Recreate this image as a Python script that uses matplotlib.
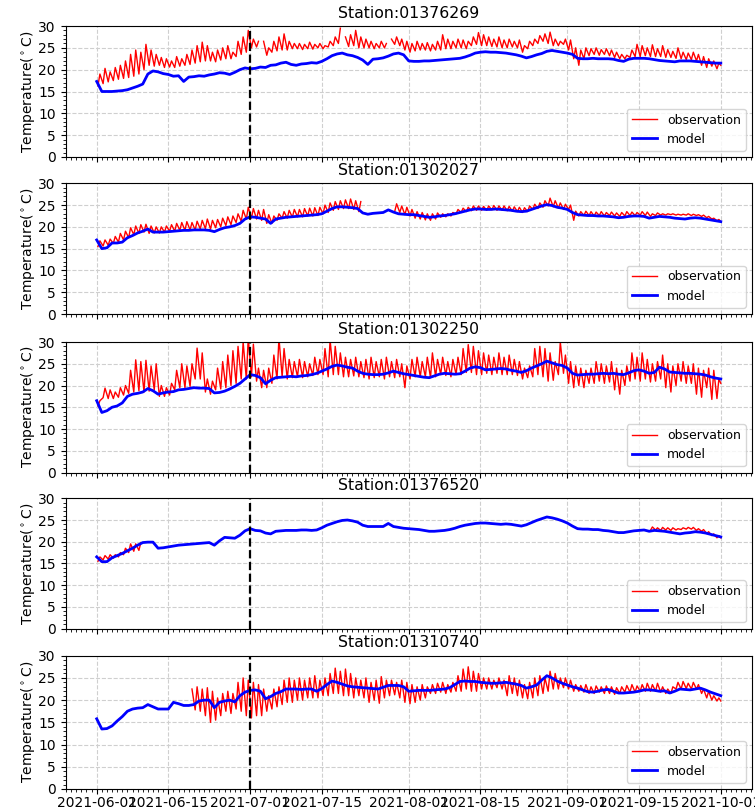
import numpy as np
import matplotlib
matplotlib.use("Agg")
import matplotlib.pyplot as plt
import matplotlib.dates as mdates
from matplotlib.ticker import MultipleLocator

nan = np.nan

stations = ["01376269", "01302027", "01302250", "01376520", "01310740"]
xtick_labels = ["2021-06-01", "2021-06-15", "2021-07-01", "2021-07-15", "2021-08-01",
                "2021-08-15", "2021-09-01", "2021-09-15", "2021-10-01"]
split_date = "2021-07-01"

# ---------------- model (daily values, 2021-06-01 .. 2021-10-01) ----------------
model_01376269 = [17.3, 15.0, 15.0, 15.0, 15.1, 15.2, 15.4, 15.8, 16.2, 16.7,
                  19.0, 19.7, 19.5, 19.1, 18.9, 18.5, 18.6, 17.3, 18.3, 18.4,
                  18.6, 18.5, 18.8, 19.0, 19.3, 19.2, 18.9, 19.4, 20.0, 20.4,
                  20.2, 20.3, 20.6, 20.5, 21.0, 21.1, 21.5, 21.7, 21.2, 21.0,
                  21.3, 21.4, 21.6, 21.5, 21.9, 22.5, 23.2, 23.6, 23.8, 23.4,
                  23.2, 22.8, 22.2, 21.2, 22.4, 22.5, 22.7, 23.1, 23.6, 23.8,
                  23.4, 22.0, 21.9, 21.9, 22.0, 22.0, 22.1, 22.2, 22.3, 22.4,
                  22.5, 22.6, 22.9, 23.3, 23.8, 24.0, 24.1, 24.0, 24.0, 23.9,
                  23.8, 23.6, 23.4, 23.1, 22.7, 23.0, 23.4, 23.7, 24.2, 24.4,
                  24.2, 24.0, 23.8, 23.5, 22.6, 22.5, 22.5, 22.6, 22.5, 22.5,
                  22.5, 22.4, 22.1, 21.9, 22.4, 22.6, 22.6, 22.6, 22.5, 22.3,
                  22.1, 22.0, 21.9, 21.8, 22.0, 22.0, 22.0, 21.9, 21.8, 21.7,
                  21.6, 21.5, 21.5]
model_01302027 = [17.0, 15.0, 15.2, 16.3, 16.3, 16.5, 17.5, 18.0, 18.6, 19.0,
                  19.5, 18.8, 18.8, 18.8, 18.9, 19.0, 19.1, 19.2, 19.2, 19.3,
                  19.3, 19.3, 19.2, 18.9, 19.4, 19.8, 20.0, 20.3, 20.8, 21.8,
                  22.3, 22.2, 22.0, 21.8, 20.8, 21.8, 22.0, 22.2, 22.3, 22.4,
                  22.5, 22.6, 22.7, 22.8, 23.0, 23.6, 24.2, 24.6, 24.6, 24.5,
                  24.4, 24.2, 23.2, 22.9, 23.1, 23.2, 23.3, 23.9, 23.4, 23.0,
                  22.9, 22.8, 22.8, 22.6, 22.4, 22.2, 22.3, 22.5, 22.6, 22.8,
                  23.0, 23.3, 23.6, 23.9, 24.1, 24.1, 24.0, 24.0, 24.1, 24.0,
                  23.9, 23.8, 23.6, 23.5, 23.6, 24.0, 24.4, 24.8, 25.1, 24.9,
                  24.5, 24.3, 24.0, 23.3, 22.8, 22.7, 22.6, 22.6, 22.5, 22.5,
                  22.4, 22.3, 22.1, 22.2, 22.4, 22.5, 22.5, 22.4, 22.0, 22.2,
                  22.4, 22.3, 22.2, 22.0, 21.9, 21.8, 22.0, 22.1, 22.0, 21.8,
                  21.6, 21.4, 21.2]
model_01302250 = [16.5, 13.8, 14.2, 15.0, 15.3, 16.0, 17.5, 18.0, 18.2, 18.5,
                  19.3, 18.8, 18.0, 18.3, 18.5, 18.6, 19.0, 19.1, 19.3, 19.5,
                  19.4, 19.4, 19.3, 18.3, 18.4, 18.7, 19.2, 19.8, 20.5, 21.5,
                  22.5, 22.3, 21.8, 20.4, 21.2, 21.8, 21.9, 22.0, 22.1, 22.0,
                  22.2, 22.3, 22.5, 22.8, 23.3, 23.8, 24.4, 24.7, 24.5, 24.2,
                  24.0, 23.3, 22.8, 22.6, 22.5, 22.5, 22.6, 22.9, 23.3, 23.0,
                  22.7, 22.5, 22.3, 22.1, 21.9, 21.8, 22.2, 22.6, 22.8, 22.7,
                  22.6, 22.7, 23.3, 24.0, 24.3, 24.1, 23.6, 23.7, 23.8, 23.9,
                  23.8, 23.5, 23.3, 23.0, 23.4, 24.0, 24.5, 25.0, 25.6, 25.2,
                  24.8, 24.6, 24.0, 22.8, 22.4, 22.5, 22.6, 22.6, 22.7, 22.8,
                  22.7, 22.8, 22.6, 22.5, 22.9, 23.4, 23.6, 23.3, 22.8, 23.0,
                  24.2, 23.8, 23.1, 23.0, 22.9, 22.8, 22.8, 22.7, 22.6, 22.4,
                  22.0, 21.7, 21.5]
model_01376520 = [16.5, 15.4, 15.4, 16.3, 16.8, 17.3, 17.9, 18.5, 19.2, 19.8,
                  19.9, 19.9, 18.5, 18.6, 18.8, 19.0, 19.2, 19.3, 19.4, 19.5,
                  19.6, 19.7, 19.8, 19.2, 20.2, 21.0, 20.9, 20.8, 21.5, 22.5,
                  23.0, 22.6, 22.5, 22.0, 21.8, 22.4, 22.5, 22.6, 22.6, 22.6,
                  22.7, 22.7, 22.6, 22.7, 23.2, 23.8, 24.2, 24.6, 24.9, 25.0,
                  24.8, 24.5, 23.8, 23.5, 23.5, 23.5, 23.5, 24.2, 23.5, 23.3,
                  23.1, 23.0, 22.9, 22.8, 22.6, 22.4, 22.4, 22.5, 22.6, 22.8,
                  23.1, 23.5, 23.8, 24.0, 24.2, 24.3, 24.3, 24.2, 24.1, 24.0,
                  24.1, 24.0, 23.8, 23.6, 23.9, 24.4, 24.9, 25.3, 25.7, 25.5,
                  25.2, 24.8, 24.3, 23.6, 23.0, 22.9, 22.9, 22.8, 22.8, 22.6,
                  22.5, 22.3, 22.1, 22.1, 22.3, 22.5, 22.6, 22.7, 22.4, 22.6,
                  22.5, 22.4, 22.2, 22.0, 21.8, 22.0, 22.1, 22.3, 22.2, 22.0,
                  21.7, 21.4, 21.1]
model_01310740 = [15.8, 13.5, 13.6, 14.2, 15.3, 16.3, 17.5, 18.0, 18.2, 18.3,
                  19.0, 18.5, 18.0, 18.0, 18.0, 19.5, 19.2, 18.8, 18.8, 19.0,
                  19.8, 20.0, 20.0, 18.3, 19.5, 19.8, 20.0, 19.6, 21.0, 21.8,
                  22.2, 22.3, 22.0, 20.3, 20.8, 21.5, 21.9, 22.5, 22.5, 22.5,
                  22.4, 22.5, 22.5, 22.0, 22.6, 23.5, 24.3, 24.0, 23.6, 23.2,
                  23.0, 22.9, 22.8, 22.7, 22.6, 22.5, 22.9, 23.3, 23.3, 23.3,
                  23.0, 22.0, 22.1, 22.2, 22.2, 22.2, 22.3, 22.4, 22.5, 22.8,
                  23.5, 24.2, 24.3, 24.2, 24.2, 24.0, 23.9, 23.8, 23.8, 23.9,
                  24.0, 23.8, 23.6, 23.3, 22.7, 23.0, 23.4, 24.5, 25.5, 25.0,
                  24.3, 23.8, 23.4, 23.0, 22.7, 22.3, 21.9, 21.8, 22.0, 22.3,
                  22.4, 22.0, 21.6, 21.6, 21.7, 21.8, 22.0, 22.3, 22.3, 22.2,
                  22.0, 22.1, 21.6, 22.0, 22.5, 22.4, 22.3, 22.5, 22.7, 22.3,
                  21.8, 21.4, 21.0]

# ---------------- observations: daily max / min (NaN = missing) ----------------
obs_hi_01376269 = [19.0, 20.3, 19.5, 20.5, 21.0, 22.0, 23.5, 24.5, 24.0, 25.8,
                   24.5, 23.5, 22.8, 22.5, 22.0, 23.0, 22.5, 23.5, 24.5, 25.5,
                   26.3, 25.5, 24.0, 24.5, 25.0, 25.5, 24.0, 26.5, 27.5, 29.0,
                   27.0, 26.5, 26.5, 25.0, 26.5, 27.5, 28.2, 26.5, 26.0, 26.0,
                   25.8, 26.3, 25.8, 26.0, 25.5, 26.5, 27.5, 29.5, 27.5, 28.0,
                   29.0, 27.5, 27.0, 26.5, 26.0, 26.5, 26.0, 27.0, 27.5, 27.0,
                   26.5, 26.0, 26.5, 26.0, 26.2, 25.8, 26.5, 28.0, 27.0, 26.5,
                   27.0, 26.8, 26.5, 27.5, 28.5, 28.0, 27.5, 27.0, 27.5, 26.8,
                   27.0, 26.5, 26.8, 25.5, 26.5, 27.0, 27.8, 28.2, 28.6, 27.0,
                   26.5, 27.0, 26.8, 25.0, 24.5, 25.0, 24.8, 25.0, 24.6, 24.8,
                   24.5, 24.0, 23.5, 23.3, 24.5, 25.8, 25.5, 25.0, 25.7, 24.8,
                   25.5, 24.6, 24.2, 25.0, 24.0, 23.8, 24.0, 23.5, 23.0, 22.5,
                   22.0, 21.5]
obs_lo_01376269 = [16.3, 16.8, 17.2, 17.5, 17.8, 18.0, 18.2, 18.5, 19.0, 20.0,
                   21.0, 20.8, 21.0, 20.5, 20.6, 20.5, 20.8, 21.0, 21.2, 21.5,
                   21.8, 22.0, 22.0, 21.8, 22.2, 22.5, 22.5, 23.0, 23.5, 24.0,
                   25.0, 25.2, nan, 23.3, 24.0, 24.3, 24.5, 24.5, 24.8, 24.8,
                   24.6, 24.8, 24.7, 25.0, 24.8, 25.2, 25.5, 26.0, nan, 25.3,
                   25.5, 25.0, 25.0, 25.0, 24.8, 25.0, 25.0, nan, 25.8, 25.5,
                   24.5, 24.0, 24.3, 24.5, 24.5, 24.3, 24.5, 24.5, 24.8, 24.8,
                   25.0, 25.0, 24.8, 25.5, 25.8, 25.5, 25.5, 25.3, 25.2, 25.0,
                   25.0, 25.2, 25.0, 24.0, 24.8, 25.5, 26.0, 26.5, 26.0, 25.5,
                   25.5, 25.8, 24.5, 22.5, 21.0, 22.5, 23.2, 23.5, 23.3, 23.5,
                   23.2, 22.8, 22.5, 22.5, 22.8, 23.0, 23.0, 23.2, 23.0, 23.0,
                   23.0, 22.8, 22.8, 22.6, 22.5, 22.3, 22.3, 22.0, 21.0, 20.5,
                   20.8, 20.2]
obs_end_01376269 = 21.0

obs_hi_01302027 = [16.8, 17.0, 17.2, 17.8, 18.5, 19.0, 19.8, 20.2, 20.5, 20.6,
                   20.2, 20.0, 20.0, 20.2, 20.5, 20.8, 21.0, 21.2, 21.0, 21.3,
                   21.5, 21.8, 21.5, 21.7, 22.0, 22.3, 22.5, 23.0, 23.8, 24.5,
                   24.2, 23.8, 24.0, 22.8, 22.5, 23.0, 23.5, 23.8, 24.0, 24.0,
                   24.2, 24.3, 24.4, 24.5, 25.0, 25.5, 25.8, 26.0, 26.2, 26.4,
                   26.0, 25.8, nan, nan, nan, nan, nan, nan, 25.3, 24.8,
                   24.5, 24.0, 23.5, 23.3, 23.0, 23.0, 23.2, 23.0, 23.0, 23.3,
                   24.0, 24.3, 24.5, 24.8, 24.8, 24.7, 24.8, 24.9, 24.8, 24.8,
                   24.7, 24.6, 24.5, 24.4, 24.8, 25.2, 25.5, 26.0, 26.6, 26.0,
                   25.5, 25.2, 25.0, 23.6, 23.5, 23.6, 23.5, 23.4, 23.5, 23.3,
                   23.4, 23.2, 23.3, 23.5, 23.4, 23.3, 23.5, 23.4, 23.0, 23.2,
                   23.0, 23.0, 23.0, 22.9, 22.9, 23.0, 22.9, 22.8, 22.7, 22.4,
                   22.0, 21.7]
obs_lo_01302027 = [15.5, 15.6, 15.8, 16.2, 16.5, 17.0, 17.5, 18.2, 18.5, 18.8,
                   18.5, 18.6, 18.6, 18.8, 19.0, 19.0, 19.2, 19.2, 19.3, 19.3,
                   19.5, 19.6, 19.5, 19.8, 20.0, 20.3, 20.5, 21.0, 21.3, 21.8,
                   22.0, 21.8, 21.5, 20.8, 20.8, 21.5, 22.0, 22.0, 22.2, 22.3,
                   22.3, 22.5, 22.5, 22.6, 23.0, 23.3, 23.8, 24.0, 24.2, 24.2,
                   24.0, 23.5, nan, nan, nan, nan, nan, nan, 23.5, 23.3,
                   22.8, 22.5, 22.0, 21.8, 21.6, 21.5, 21.8, 22.2, 22.3, 22.5,
                   23.0, 23.3, 23.5, 23.7, 23.8, 23.8, 23.8, 23.9, 23.8, 23.8,
                   23.7, 23.6, 23.5, 23.3, 23.5, 24.0, 24.2, 24.5, 24.8, 24.6,
                   24.3, 24.0, 24.0, 21.5, 22.5, 22.6, 22.6, 22.5, 22.6, 22.5,
                   22.6, 22.5, 22.4, 22.5, 22.6, 22.6, 22.7, 22.6, 22.4, 22.6,
                   22.7, 22.7, 22.8, 22.7, 22.7, 22.7, 22.6, 22.6, 22.4, 22.1,
                   21.8, 21.4]
obs_end_01302027 = 21.2

obs_hi_01302250 = [16.5, 19.4, 19.0, 18.5, 19.5, 20.0, 23.5, 25.9, 25.5, 25.8,
                   24.5, 25.0, 20.0, 19.5, 20.5, 23.5, 25.0, 24.5, 25.0, 28.6,
                   27.5, 21.5, 21.0, 24.0, 25.5, 27.0, 28.0, 29.0, 30.0, 31.0,
                   29.5, 24.0, 23.5, 24.0, 27.0, 31.0, 28.5, 26.0, 25.5, 26.0,
                   25.5, 25.0, 26.5, 26.0, 28.5, 30.5, 29.0, 27.5, 26.5, 26.0,
                   26.5, 25.5, 26.0, 26.5, 25.5, 26.0, 26.5, 25.5, 26.0, 25.0,
                   24.5, 26.0, 26.5, 25.5, 26.5, 27.5, 26.0, 26.5, 25.5, 26.0,
                   26.5, 28.5, 29.4, 29.0, 28.0, 27.5, 27.0, 26.5, 27.5, 26.5,
                   27.0, 26.0, 25.5, 24.0, 24.5, 28.5, 29.0, 28.5, 27.5, 25.5,
                   30.0, 27.0, 25.5, 24.5, 24.0, 23.5, 24.0, 25.5, 25.0, 24.5,
                   25.5, 24.0, 23.5, 24.5, 27.5, 26.5, 27.5, 26.0, 25.0, 25.5,
                   27.0, 25.0, 24.5, 25.0, 25.5, 24.5, 25.0, 24.0, 23.5, 24.0,
                   23.5, 21.5]
obs_lo_01302250 = [15.3, 17.2, 17.0, 17.0, 17.3, 17.8, 18.2, 18.5, 18.8, 18.5,
                   18.7, 19.0, 17.5, 17.5, 17.8, 19.0, 19.5, 19.5, 19.8, 21.5,
                   21.5, 18.5, 18.0, 19.0, 19.2, 19.5, 20.0, 20.5, 21.5, 21.5,
                   22.0, 21.0, 19.5, 19.5, 20.5, 21.5, 22.0, 21.5, 21.8, 22.0,
                   21.8, 22.0, 22.3, 22.5, 22.5, 22.0, 22.5, 22.5, 22.0, 22.0,
                   22.2, 22.0, 21.8, 21.5, 21.8, 22.0, 21.5, 22.0, 21.8, 22.0,
                   19.5, 21.5, 22.0, 22.0, 22.0, 21.8, 22.0, 22.5, 22.3, 22.0,
                   22.5, 22.5, 23.0, 23.0, 22.5, 22.5, 22.8, 22.5, 22.8, 22.5,
                   22.5, 22.5, 22.3, 21.5, 21.8, 22.0, 22.5, 22.0, 21.0, 21.2,
                   22.5, 22.8, 20.5, 19.5, 20.0, 19.5, 20.5, 20.5, 21.0, 20.5,
                   20.8, 19.0, 18.0, 20.0, 21.0, 21.5, 21.0, 21.5, 20.8, 21.0,
                   21.5, 19.5, 18.5, 20.0, 21.0, 20.5, 20.5, 18.0, 17.3, 19.5,
                   16.8, 17.0]
obs_end_01302250 = 20.5

obs_hi_01376520 = [16.5, 16.8, 17.0, 17.0, 17.5, 18.5, 19.5, 19.5, 19.8] + [nan] * 99 + \
                  [23.4, 23.2, 23.3, 23.2, 23.2, 23.0, 23.2, 23.3, 23.3, 23.0,
                   22.8, 22.3, 21.8, 21.4]
obs_lo_01376520 = [15.5, 15.8, 16.0, 16.2, 16.5, 17.0, 17.5, 17.8, 18.0] + [nan] * 99 + \
                  [22.6, 22.7, 22.6, 22.7, 22.6, 22.7, 22.8, 22.9, 22.9, 22.6,
                   22.4, 21.9, 21.4, 20.9]
obs_end_01376520 = 20.9

obs_hi_01310740 = [nan] * 18 + \
                  [22.5, 23.0, 22.5, 22.8, 22.0, 20.5, 21.5, 22.0, 21.5, 24.0,
                   25.0, 24.5, 24.0, 23.5, 22.5, 21.0, 22.5, 23.0, 24.5, 25.0,
                   24.5, 25.0, 24.5, 25.0, 25.5, 24.5, 25.0, 26.0, 27.2, 26.5,
                   27.0, 26.0, 25.0, 24.5, 25.0, 24.0, 24.5, 25.3, 24.5, 24.5,
                   24.0, 24.5, 24.0, 23.5, 23.0, 23.5, 23.0, 23.5, 23.8, 24.0,
                   23.5, 24.0, 25.5, 27.0, 27.5, 26.5, 26.0, 25.0, 25.0, 24.5,
                   25.0, 24.5, 25.5, 25.0, 24.5, 23.5, 24.0, 25.0, 25.5, 25.0,
                   26.5, 26.0, 25.0, 25.0, 24.5, 23.5, 23.3, 23.5, 23.0, 23.2,
                   23.0, 23.2, 23.0, 22.8, 23.0, 23.3, 23.5, 23.2, 23.5, 23.8,
                   23.5, 23.8, 23.0, 22.5, 23.0, 24.0, 24.2, 23.8, 24.0, 23.5,
                   22.5, 22.0, 21.0, 20.5]
obs_lo_01310740 = [nan] * 18 + \
                  [nan, 17.8, 17.5, 16.5, 15.0, 15.5, 16.5, 17.5, 17.0, 18.0,
                   17.5, 16.5, 16.0, 16.5, 16.5, 17.5, 18.0, 18.5, 19.0, 19.5,
                   19.5, 20.0, 20.0, 20.5, 20.5, 20.5, 21.0, 21.0, 21.5, 21.5,
                   21.0, 21.0, 20.5, 21.0, 20.5, 19.5, 20.0, 19.3, 20.5, 21.0,
                   21.2, 20.5, 19.5, 19.2, 19.5, 20.0, 20.5, 21.5, 21.5, 21.8,
                   21.5, 21.8, 22.0, 22.0, 22.5, 22.0, 22.0, 22.5, 22.5, 22.5,
                   22.8, 22.5, 21.0, 21.5, 21.0, 20.5, 20.3, 20.5, 21.0, 21.5,
                   22.0, 22.5, 22.5, 22.8, 22.5, 22.0, 22.0, 21.8, 21.5, 21.5,
                   21.8, 21.5, 21.5, 21.3, 21.5, 21.8, 21.8, 21.8, 22.0, 22.0,
                   22.0, 22.0, 21.8, 21.5, 21.5, 22.5, 22.5, 22.6, 22.5, 22.5,
                   21.5, 20.5, 20.0, 19.8]
obs_end_01310740 = 19.8

model_series = [model_01376269, model_01302027, model_01302250, model_01376520, model_01310740]
obs_hi_series = [obs_hi_01376269, obs_hi_01302027, obs_hi_01302250, obs_hi_01376520, obs_hi_01310740]
obs_lo_series = [obs_lo_01376269, obs_lo_01302027, obs_lo_01302250, obs_lo_01376520, obs_lo_01310740]
obs_end_values = [obs_end_01376269, obs_end_01302027, obs_end_01302250, obs_end_01376520, obs_end_01310740]

# ---------------- time axes ----------------
t0 = np.datetime64("2021-06-01T00:00", "m")
n_days = len(model_01376269) - 1           # 122 days
model_t = t0 + (np.arange(n_days + 1) * 1440).astype("timedelta64[m]")
lo_t = t0 + (np.arange(n_days) * 1440 + 6 * 60).astype("timedelta64[m]")
hi_t = t0 + (np.arange(n_days) * 1440 + 15 * 60).astype("timedelta64[m]")
obs_t = np.concatenate([np.column_stack([lo_t, hi_t]).ravel(), model_t[-1:]])

# ---------------- figure ----------------
W, H = 755, 810
fig = plt.figure(figsize=(W / 100, H / 100), dpi=100)
left_px, right_px = 65.5, 752
panels_px = [(26, 157), (183.3, 314), (342, 472.5), (498.3, 628.5), (655.7, 789)]

major_dates = np.array(xtick_labels, dtype="datetime64[D]")
for i, (top, bot) in enumerate(panels_px):
    ax = fig.add_axes([left_px / W, 1 - bot / H, (right_px - left_px) / W, (bot - top) / H])
    obs_v = np.concatenate([np.column_stack([obs_lo_series[i], obs_hi_series[i]]).ravel(),
                            [obs_end_values[i]]])
    ax.plot(obs_t, obs_v, color="red", lw=1.0, label="observation", zorder=2)
    ax.plot(model_t, model_series[i], color="blue", lw=2.0, label="model", zorder=3)
    ax.axvline(np.datetime64(split_date), color="black", ls="--", lw=1.6, zorder=4)
    ax.set_ylim(0, 30)
    ax.yaxis.set_major_locator(MultipleLocator(5))
    ax.yaxis.set_minor_locator(MultipleLocator(1))
    ax.set_xticks(major_dates.astype("datetime64[m]"))
    ax.xaxis.set_minor_locator(mdates.DayLocator())
    if i == len(panels_px) - 1:
        ax.set_xticklabels(xtick_labels, fontsize=10)
    else:
        ax.set_xticklabels([])
    ax.tick_params(axis="x", which="major", pad=1.2)
    ax.tick_params(axis="y", labelsize=10)
    ax.grid(True, which="major", color="#cfcfcf", ls="--", lw=0.8)
    ax.set_axisbelow(True)
    ax.set_ylabel("Temperature($^\\circ$C)", fontsize=10, labelpad=1)
    ax.set_title("Station:" + stations[i], fontsize=11.3)
    ax.legend(loc="lower right", fontsize=9)

fig.savefig("out.png", dpi=100)
